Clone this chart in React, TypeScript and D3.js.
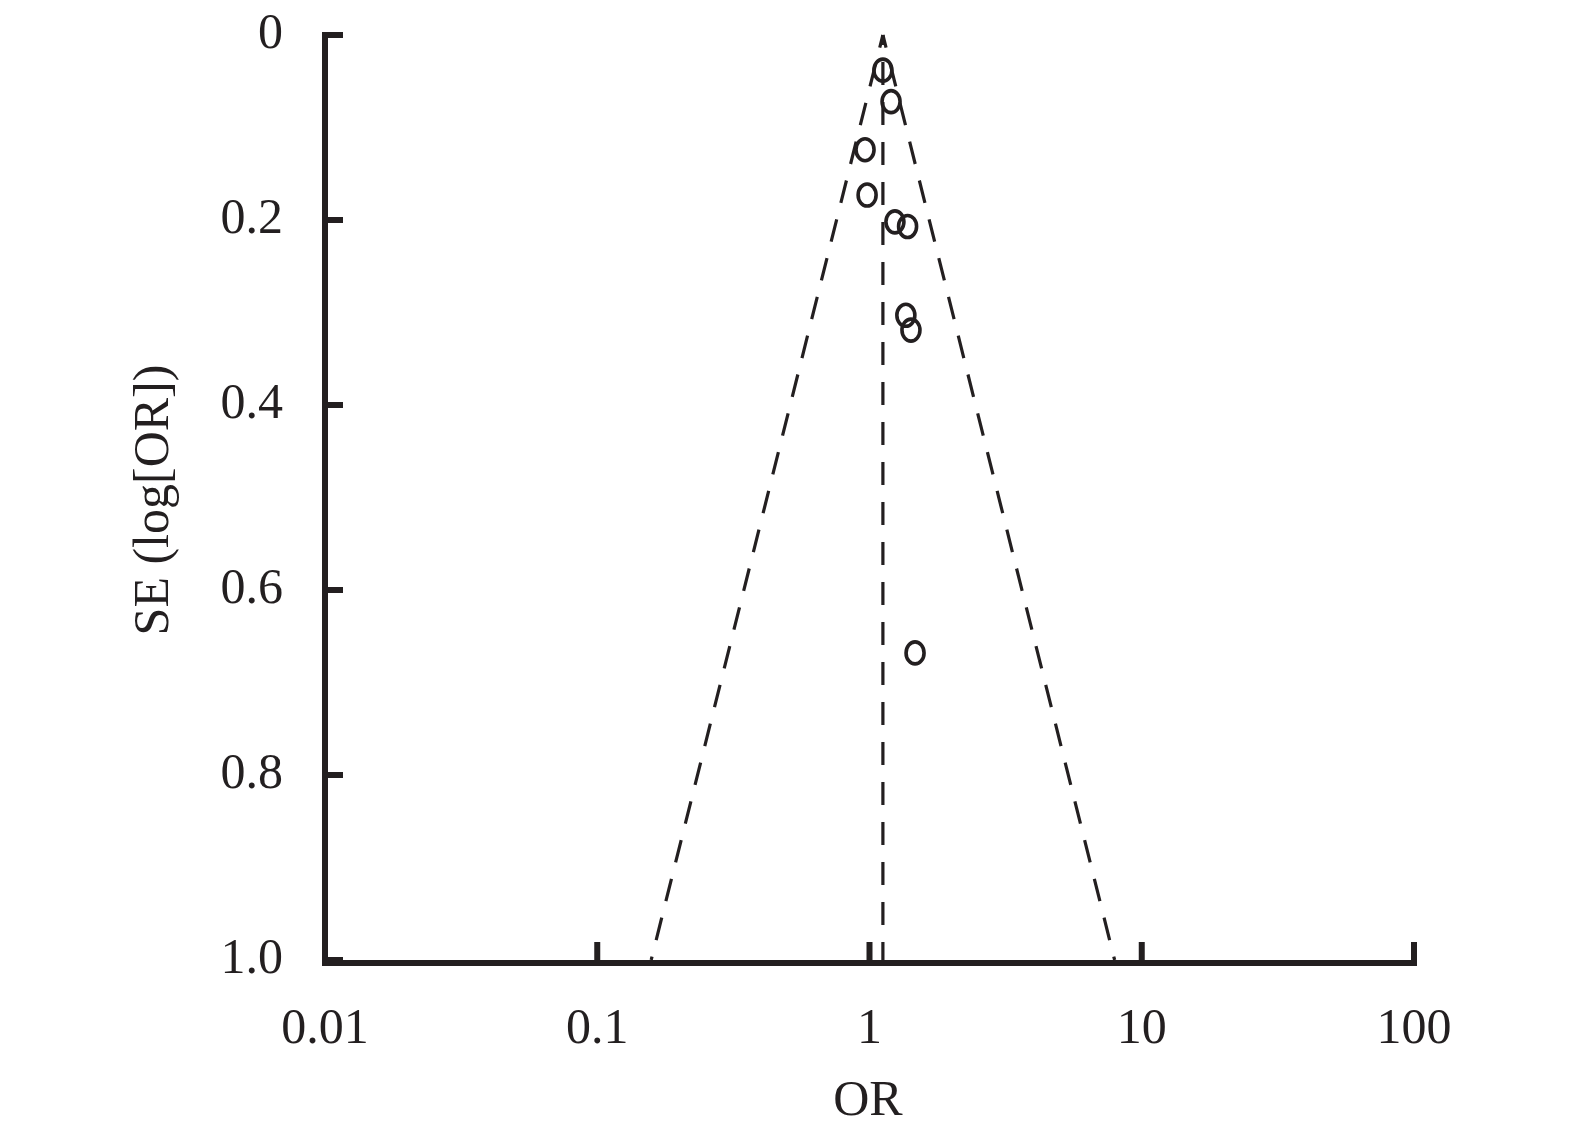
import React from "react";
import * as d3 from "d3";

const studyOR = [1.12, 1.2, 0.963, 0.98, 1.24, 1.38, 1.36, 1.42, 1.47];
const studySE = [0.038, 0.072, 0.124, 0.173, 0.202, 0.207, 0.303, 0.319, 0.668];
const pooledOR = 1.12;
const xTicks = [0.01, 0.1, 1, 10, 100];
const xTickLabels = ["0.01", "0.1", "1", "10", "100"];
const yTicks = [0, 0.2, 0.4, 0.6, 0.8, 1.0];
const yTickLabels = ["0", "0.2", "0.4", "0.6", "0.8", "1.0"];

const W = 1575;
const H = 1142;
const FONT = "'Liberation Serif', 'DejaVu Serif', serif";
const INK = "#231f20";

export default function App() {
  const x = d3.scaleLog().domain([0.01, 100]).range([325, 1414]);
  const y = d3.scaleLinear().domain([0, 1]).range([35, 960]);
  const lp = Math.log(pooledOR);
  const seMax = 1.0;
  const leftBottom = Math.exp(lp - 1.96 * seMax);
  const rightBottom = Math.exp(lp + 1.96 * seMax);
  const line = d3.line<[number, number]>().x((d) => x(d[0])).y((d) => y(d[1]));
  const dash = "23 17";

  return (
    <svg width={W} height={H} style={{ position: "absolute", left: 0, top: 0 }}>
      <rect width={W} height={H} fill="#fff" />
      {/* funnel */}
      <path d={line([[pooledOR, 0], [leftBottom, seMax]]) || ""} fill="none" stroke={INK} strokeWidth={3.2} strokeDasharray={dash} strokeDashoffset={10} />
      <path d={line([[pooledOR, 0], [rightBottom, seMax]]) || ""} fill="none" stroke={INK} strokeWidth={3.2} strokeDasharray={dash} strokeDashoffset={10} />
      <path d={line([[pooledOR, 0], [pooledOR, seMax]]) || ""} fill="none" stroke={INK} strokeWidth={3.2} strokeDasharray={dash} strokeDashoffset={13} />
      {/* points */}
      {studyOR.map((o, i) => (
        <ellipse key={i} cx={x(o)} cy={y(studySE[i])} rx={9} ry={11} fill="none" stroke={INK} strokeWidth={3.6} />
      ))}
      {/* axes */}
      <path d={`M${x(0.01)},${y(0) - 3}V${y(1) + 3}H${x(100) + 3}`} fill="none" stroke={INK} strokeWidth={6} strokeLinejoin="miter" strokeLinecap="butt" />
      {yTicks.map((t) => (
        <line key={"yt" + t} x1={x(0.01)} x2={x(0.01) + 18} y1={y(t)} y2={y(t)} stroke={INK} strokeWidth={6} />
      ))}
      {xTicks.map((t) => (
        <line key={"xt" + t} x1={x(t)} x2={x(t)} y1={y(1)} y2={y(1) - 18} stroke={INK} strokeWidth={6} />
      ))}
      {yTicks.map((t, i) => (
        <text key={"yl" + t} x={283} y={y(t) + 13} textAnchor="end" fontFamily={FONT} fontSize={50} fill={INK}>
          {yTickLabels[i]}
        </text>
      ))}
      {xTicks.map((t, i) => (
        <text key={"xl" + t} x={x(t)} y={1043} textAnchor="middle" fontFamily={FONT} fontSize={50} fill={INK}>
          {xTickLabels[i]}
        </text>
      ))}
      <text x={868} y={1115} textAnchor="middle" fontFamily={FONT} fontSize={50} fill={INK}>OR</text>
      <text transform="translate(168,500) rotate(-90)" textAnchor="middle" fontFamily={FONT} fontSize={50} fill={INK}>
        SE (log[OR])
      </text>
    </svg>
  );
}
